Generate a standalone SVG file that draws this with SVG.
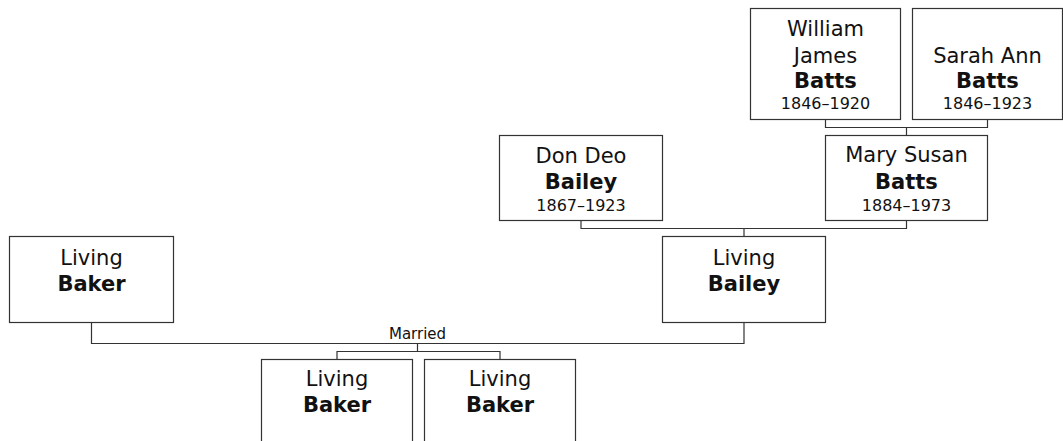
<svg xmlns="http://www.w3.org/2000/svg" width="1063" height="441" viewBox="0 0 1063 441">
<style>
.box{fill:#fff;stroke:#333;stroke-width:1.2}
.t{font-family:"DejaVu Sans","Verdana",sans-serif;font-size:21px;fill:#111;text-anchor:middle}
.b{font-weight:bold}
.y{font-size:16px}
.m{font-size:15px}
.c{fill:none;stroke:#333;stroke-width:1.2}
</style>
<rect width="1063" height="441" fill="#fff"/>
<g id="connectors">
<path class="c" d="M825.5 119.5V127.5H987.5V119.5M906.5 127.5V135.5"/>
<path class="c" d="M581 220.5V228.5H906.5V220.5M744 228.5V236.5"/>
<path class="c" d="M91.5 322.5V343.5H744V322.5M417.5 343.5V351.5M337 359.5V351.5H500V359.5"/>
<text class="t m" x="417.5" y="339">Married</text>
</g>
<g id="n_william">
<rect class="box" x="750.5" y="8.5" width="150" height="111"/>
<text class="t" x="825.5" y="36">William</text>
<text class="t" x="825.5" y="63">James</text>
<text class="t b" x="825.5" y="88">Batts</text>
<text class="t y" x="825.5" y="109">1846–1920</text>
</g>
<g id="n_sarah">
<rect class="box" x="912.5" y="8.5" width="150" height="111"/>
<text class="t" x="987.5" y="63">Sarah Ann</text>
<text class="t b" x="987.5" y="88">Batts</text>
<text class="t y" x="987.5" y="109">1846–1923</text>
</g>
<g id="n_mary">
<rect class="box" x="825.5" y="135.5" width="162" height="85"/>
<text class="t" x="906.5" y="162">Mary Susan</text>
<text class="t b" x="906.5" y="189">Batts</text>
<text class="t y" x="906.5" y="211">1884–1973</text>
</g>
<g id="n_dondeo">
<rect class="box" x="499.5" y="135.5" width="163" height="85"/>
<text class="t" x="581" y="163">Don Deo</text>
<text class="t b" x="581" y="189">Bailey</text>
<text class="t y" x="581" y="211">1867–1923</text>
</g>
<g id="n_livingbailey">
<rect class="box" x="662.5" y="236.5" width="163" height="86"/>
<text class="t" x="744" y="265">Living</text>
<text class="t b" x="744" y="291">Bailey</text>
</g>
<g id="n_livingbaker">
<rect class="box" x="9.5" y="236.5" width="164" height="86"/>
<text class="t" x="91.5" y="265">Living</text>
<text class="t b" x="91.5" y="291">Baker</text>
</g>
<g id="n_child1">
<rect class="box" x="261.5" y="359.5" width="151" height="100"/>
<text class="t" x="337" y="386">Living</text>
<text class="t b" x="337" y="412">Baker</text>
</g>
<g id="n_child2">
<rect class="box" x="424.5" y="359.5" width="151" height="100"/>
<text class="t" x="500" y="386">Living</text>
<text class="t b" x="500" y="412">Baker</text>
</g>
</svg>
